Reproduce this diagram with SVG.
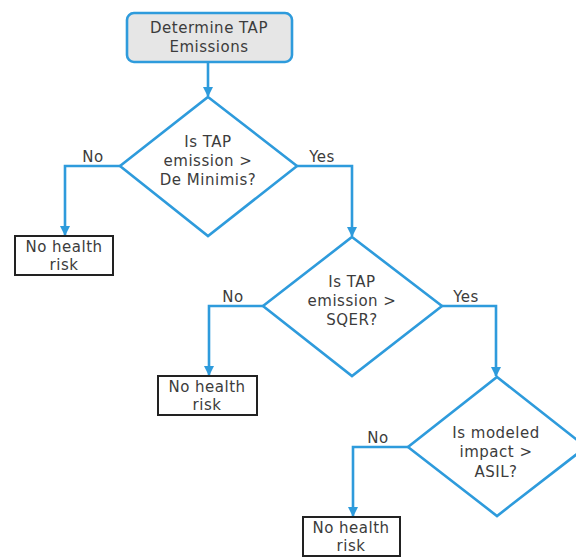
<svg xmlns="http://www.w3.org/2000/svg" width="576" height="557" viewBox="0 0 576 557">
<style>
text{font-family:"DejaVu Sans",Verdana,sans-serif;font-size:15px;letter-spacing:0.5px;fill:#3c3c3c;text-anchor:middle}
.dia{fill:#fff;stroke:#2e9bdc;stroke-width:2.6}
.box{fill:#fff;stroke:#222;stroke-width:2}
.conn{fill:none;stroke:#2e9bdc;stroke-width:2.6;marker-end:url(#ah)}
</style>
<defs>
<marker id="ah" viewBox="0 0 10 10" refX="9" refY="5" markerWidth="4" markerHeight="4" orient="auto" markerUnits="strokeWidth">
<path d="M0,0 L10,5 L0,10 z" fill="#2e9bdc"/>
</marker>
</defs>
<rect width="576" height="557" fill="#fff"/>
<g id="connectors">
<path class="conn" d="M208,62 V96"/>
<path class="conn" d="M120,166 H65 V235"/>
<path class="conn" d="M297,166 H352 V236"/>
<path class="conn" d="M263,306 H209 V375"/>
<path class="conn" d="M442,306 H496 V376"/>
<path class="conn" d="M408,447 H353 V516"/>
<text x="93" y="162">No</text>
<text x="322" y="162">Yes</text>
<text x="233" y="302">No</text>
<text x="466" y="302">Yes</text>
<text x="378" y="443">No</text>
</g>
<g id="start">
<rect x="127" y="13" width="165" height="49" rx="7" fill="#e6e6e6" stroke="#2e9bdc" stroke-width="2.6"/>
<text x="209" y="33">Determine TAP</text>
<text x="209" y="52">Emissions</text>
</g>
<g id="d1">
<polygon class="dia" points="208,97 297,166 208,236 120,166"/>
<text x="208" y="147">Is TAP</text>
<text x="208" y="166">emission &gt;</text>
<text x="208" y="185">De Minimis?</text>
</g>
<g id="n1">
<rect class="box" x="15" y="236" width="98" height="39"/>
<text x="64" y="252">No health</text>
<text x="64" y="270">risk</text>
</g>
<g id="d2">
<polygon class="dia" points="352,237 442,306 352,376 263,306"/>
<text x="352" y="287">Is TAP</text>
<text x="352" y="306">emission &gt;</text>
<text x="352" y="325">SQER?</text>
</g>
<g id="n2">
<rect class="box" x="158" y="376" width="99" height="39"/>
<text x="207" y="392">No health</text>
<text x="207" y="410">risk</text>
</g>
<g id="d3">
<polygon class="dia" points="497,377 586,447 497,516 408,447"/>
<text x="496" y="438">Is modeled</text>
<text x="496" y="457">impact &gt;</text>
<text x="496" y="477">ASIL?</text>
</g>
<g id="n3">
<rect class="box" x="303" y="517" width="97" height="39"/>
<text x="351" y="533">No health</text>
<text x="351" y="551">risk</text>
</g>
</svg>
